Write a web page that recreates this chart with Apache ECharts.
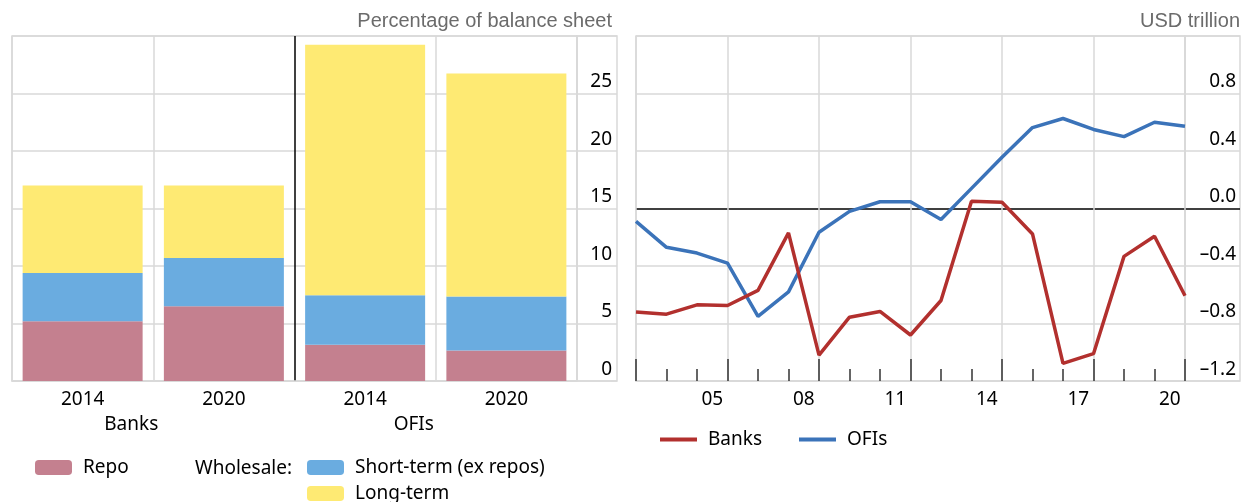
<!DOCTYPE html>
<html>
<head>
<meta charset="utf-8">
<script src="https://cdn.jsdelivr.net/npm/echarts@6/dist/echarts.min.js"></script>
<style>
  html, body { margin: 0; padding: 0; background: #fff; }
  #chart { width: 1242px; height: 502px; }
</style>
</head>
<body>
<div id="chart"></div>
<script>
// left panel: funding mix, percentage of balance sheet
const barCategories = ['2014', '2020', '2014', '2020'];
const sectorNames = ['Banks', 'OFIs'];
const repoShare = [5.2, 6.5, 3.15, 2.65];
const shortTermShare = [4.2, 4.2, 4.3, 4.7];
const longTermShare = [7.6, 6.3, 21.8, 19.4];

// right panel: USD trillion, year-end points
const pointYears = [2002, 2003, 2004, 2005, 2006, 2007, 2008, 2009, 2010, 2011,
                    2012, 2013, 2014, 2015, 2016, 2017, 2018, 2019, 2020];
const labelYears = ['2003', '2004', '2005', '2006', '2007', '2008', '2009', '2010', '2011',
                    '2012', '2013', '2014', '2015', '2016', '2017', '2018', '2019', '2020'];
const banksFlow = [-0.72, -0.735, -0.67, -0.675, -0.57, -0.17, -1.02, -0.756, -0.716, -0.88,
                   -0.64, 0.051, 0.044, -0.177, -1.077, -1.01, -0.333, -0.193, -0.607];
const ofisFlow = [-0.09, -0.27, -0.31, -0.38, -0.75, -0.58, -0.165, -0.02, 0.047, 0.047,
                  -0.077, 0.14, 0.357, 0.563, 0.626, 0.55, 0.50, 0.60, 0.572];

const FONT = 'Noto Sans';
const GRID_C = '#d9d9d9';
const txt = { color: '#000', fontFamily: FONT, fontSize: 19 };
const legendTxt = Object.assign({ padding: [0, 0, 0, 6] }, txt);
const unitTxt = { color: '#6b6b6b', fontFamily: 'Liberation Sans', fontSize: 20, fontWeight: 'normal' };

const chart = echarts.init(document.getElementById('chart'));

const toPoints = arr => arr.map((v, i) => [pointYears[i] - pointYears[0], v]);
const trillionLabel = v => {
    if (Math.abs(v) < 1e-9) return '0.0';
    return (v < 0 ? '\u2013' : '') + Math.abs(v).toFixed(1);
};

const option = {
    animation: false,
    backgroundColor: '#fff',
    title: [
        { text: 'Percentage of balance sheet', right: 630, top: 11, padding: 0, textStyle: unitTxt },
        { text: 'USD trillion', right: 2, top: 11, padding: 0, textStyle: unitTxt }
    ],
    grid: [
        { left: 12, top: 36, width: 565, bottom: 121, show: true, borderColor: GRID_C, borderWidth: 1.5 },
        { left: 577, top: 36, width: 40, bottom: 121, show: true, borderColor: GRID_C, borderWidth: 1.5 },
        { left: 636, top: 36, width: 549, bottom: 121, show: true, borderColor: GRID_C, borderWidth: 1.5 },
        { left: 1185, top: 36, width: 55, bottom: 121, show: true, borderColor: GRID_C, borderWidth: 1.5 }
    ],
    xAxis: [
        {
            gridIndex: 0, type: 'category', data: barCategories, position: 'bottom',
            axisLine: { lineStyle: { color: GRID_C, width: 1.5 } },
            axisTick: { inside: true, length: 14, interval: 0, lineStyle: { color: '#333', width: 1.5 } },
            axisLabel: Object.assign({ margin: 9, interval: 0 }, txt),
            splitLine: {
                show: true, interval: 0,
                lineStyle: { color: [GRID_C, GRID_C, '#000', GRID_C, GRID_C], width: 1.5 }
            }
        },
        {
            gridIndex: 0, type: 'category', data: sectorNames, position: 'bottom', offset: 25,
            axisLine: { show: false }, axisTick: { show: false }, splitLine: { show: false },
            axisLabel: Object.assign({ margin: 9, interval: 0, padding: [0, 44, 0, 0] }, txt)
        },
        { gridIndex: 1, type: 'value', show: false, min: 0, max: 1 },
        {
            gridIndex: 2, type: 'value', min: 0, max: 18, interval: 3, position: 'bottom',
            axisLine: { onZero: false, lineStyle: { color: GRID_C, width: 1.5 } },
            axisTick: { inside: true, length: 22, lineStyle: { color: '#333', width: 1.5 } },
            minorTick: { show: true, splitNumber: 3, length: 12, lineStyle: { color: '#333', width: 1.5 } },
            axisLabel: { show: false },
            splitLine: { show: true, lineStyle: { color: GRID_C, width: 1.5 } }
        },
        {
            gridIndex: 2, type: 'category', data: labelYears, boundaryGap: true, position: 'bottom',
            axisLine: { show: false, onZero: false }, axisTick: { show: false }, splitLine: { show: false },
            axisLabel: Object.assign({
                margin: 9,
                interval: idx => idx % 3 === 2,
                formatter: v => v.slice(2)
            }, txt)
        },
        { gridIndex: 3, type: 'value', show: false, min: 0, max: 1 }
    ],
    yAxis: [
        {
            gridIndex: 0, type: 'value', min: 0, max: 30, interval: 5,
            axisLine: { show: false }, axisTick: { show: false }, axisLabel: { show: false },
            splitLine: { lineStyle: { color: GRID_C, width: 1.5 } }
        },
        {
            gridIndex: 1, type: 'value', min: 0, max: 30, interval: 5, position: 'right',
            axisLine: { show: false }, axisTick: { show: false },
            axisLabel: Object.assign({ inside: true, margin: 5, verticalAlign: 'bottom', padding: [0, 0, 2, 0], showMaxLabel: false }, txt),
            splitLine: { lineStyle: { color: GRID_C, width: 1.5 } }
        },
        {
            gridIndex: 2, type: 'value', min: -1.2, max: 1.2, interval: 0.4,
            axisLine: { show: false }, axisTick: { show: false }, axisLabel: { show: false },
            splitLine: { lineStyle: { color: [GRID_C, GRID_C, GRID_C, '#000', GRID_C, GRID_C, GRID_C], width: 1.5 } }
        },
        {
            gridIndex: 3, type: 'value', min: -1.2, max: 1.2, interval: 0.4, position: 'right',
            axisLine: { show: false }, axisTick: { show: false },
            axisLabel: Object.assign({ inside: true, margin: 4, verticalAlign: 'bottom', padding: [0, 0, 2, 0], showMaxLabel: false, formatter: trillionLabel }, txt),
            splitLine: { lineStyle: { color: [GRID_C, GRID_C, GRID_C, '#000', GRID_C, GRID_C, GRID_C], width: 1.5 } }
        }
    ],
    legend: [
        {
            data: ['Repo'], left: 35, top: 458, padding: 0, itemWidth: 37, itemHeight: 15,
            textStyle: legendTxt, itemStyle: { borderWidth: 0 }
        },
        {
            data: ['Short-term (ex repos)'], left: 307, top: 458, padding: 0,
            itemWidth: 37, itemHeight: 15, textStyle: legendTxt, itemStyle: { borderWidth: 0 }
        },
        {
            data: ['Long-term'], left: 307, top: 484, padding: 0,
            itemWidth: 37, itemHeight: 15, textStyle: legendTxt, itemStyle: { borderWidth: 0 }
        },
        {
            data: ['Banks', 'OFIs'], left: 660, top: 430, padding: 0, icon: 'rect',
            itemWidth: 37, itemHeight: 4, itemGap: 37, textStyle: legendTxt
        }
    ],
    graphic: [
        { type: 'text', left: 195, top: 459, style: { text: 'Wholesale:', fill: '#000', font: '19px "Noto Sans"' } }
    ],
    series: [
        { name: 'Repo', type: 'bar', stack: 'total', xAxisIndex: 0, yAxisIndex: 0, barWidth: 120, data: repoShare, itemStyle: { color: '#c4808f' } },
        { name: 'Short-term (ex repos)', type: 'bar', stack: 'total', xAxisIndex: 0, yAxisIndex: 0, barWidth: 120, data: shortTermShare, itemStyle: { color: '#6aace0' } },
        { name: 'Long-term', type: 'bar', stack: 'total', xAxisIndex: 0, yAxisIndex: 0, barWidth: 120, data: longTermShare, itemStyle: { color: '#feea73' } },
        { name: 'OFIs', type: 'line', xAxisIndex: 3, yAxisIndex: 2, symbol: 'none', data: toPoints(ofisFlow), lineStyle: { color: '#3b73b9', width: 3.5 }, itemStyle: { color: '#3b73b9' } },
        { name: 'Banks', type: 'line', xAxisIndex: 3, yAxisIndex: 2, symbol: 'none', data: toPoints(banksFlow), lineStyle: { color: '#b2302e', width: 3.5 }, itemStyle: { color: '#b2302e' } }
    ]
};

chart.setOption(option);
</script>
</body>
</html>
